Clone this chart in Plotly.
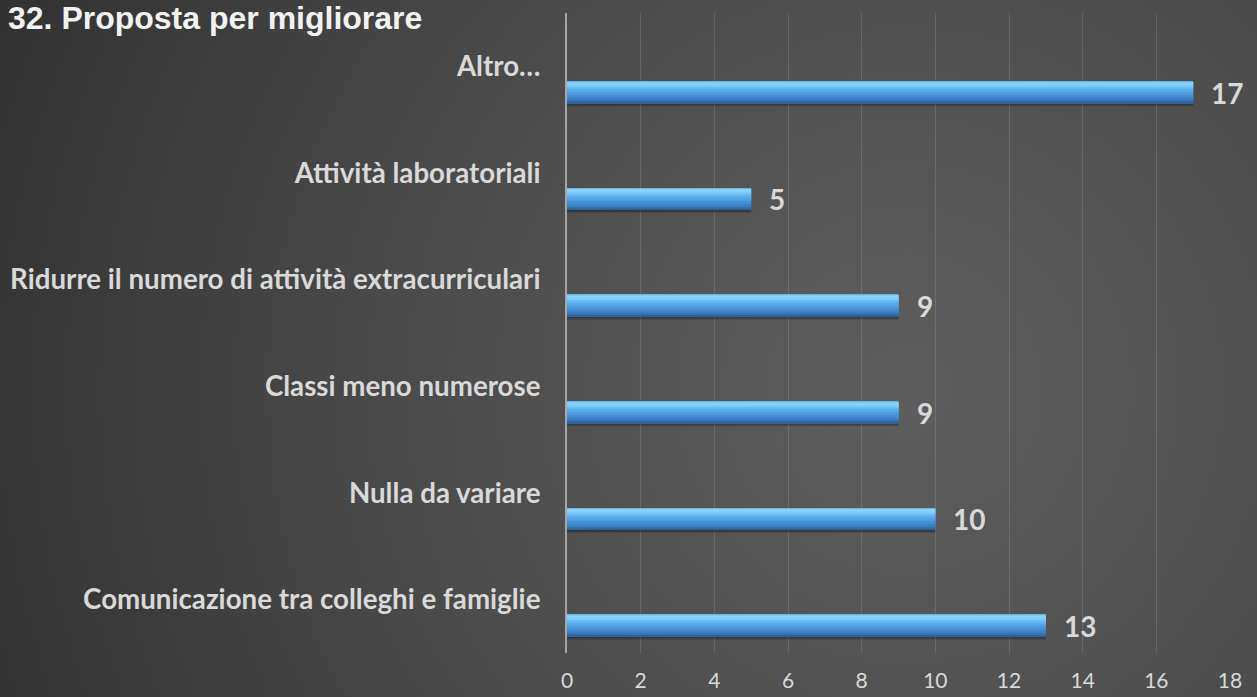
import base64
import plotly.graph_objects as go

# ---- data -------------------------------------------------------------
categories = [
    "Comunicazione tra colleghi e famiglie",
    "Nulla da variare",
    "Classi meno numerose",
    "Ridurre il numero di attività extracurriculari",
    "Attività laboratoriali",
    "Altro…",
]
values = [13, 10, 9, 9, 5, 17]
x_ticks = [0, 2, 4, 6, 8, 10, 12, 14, 16, 18]

# ---- layout constants ---------------------------------------------------
W, H = 1257, 697
M_L, M_R, M_T, M_B = 567, 27, 13, 44
BAND_PX = (H - M_T - M_B) / len(categories)   # pixels per category band
positions = list(range(len(categories)))

TEXT = "#d9d9d9"

# vertical colour profile of the glossy bar (px below band centre, rgb)
BAR_TOP, BAR_BOT = 15.5, 37.0
profile = [
    (15.5, (90, 170, 230)),
    (17.0, (140, 214, 252)),
    (20.0, (128, 205, 250)),
    (24.0, (92, 176, 238)),
    (29.0, (72, 150, 218)),
    (34.0, (58, 124, 192)),
    (37.0, (45, 96, 150)),
]


def colour_at(d):
    for (a, ca), (b, cb) in zip(profile, profile[1:]):
        if a <= d <= b:
            t = (d - a) / (b - a)
            return tuple(round(ca[k] + (cb[k] - ca[k]) * t) for k in range(3))
    return profile[-1][1]


fig = go.Figure()

# soft drop shadow under each bar
for d1, d2, alpha in [(37.0, 38.5, 0.35), (38.5, 40.0, 0.18)]:
    fig.add_trace(go.Bar(
        orientation="h", x=values, y=positions,
        offset=-d2 / BAND_PX, width=(d2 - d1) / BAND_PX,
        marker=dict(color=f"rgba(0,0,0,{alpha})", line=dict(width=0)),
        hoverinfo="skip", showlegend=False,
    ))

# bar body built from thin horizontal slices for a smooth gradient
step = 0.75
d = BAR_TOP
while d < BAR_BOT - 1e-9:
    d2 = min(d + step, BAR_BOT)
    r, g, b = colour_at((d + d2) / 2)
    fig.add_trace(go.Bar(
        orientation="h", x=values, y=positions,
        offset=-d2 / BAND_PX, width=(d2 - d) / BAND_PX + 0.002,
        marker=dict(color=f"rgb({r},{g},{b})", line=dict(width=0)),
        hoverinfo="skip", showlegend=False,
    ))
    d = d2

# value labels to the right of each bar
bar_mid = (BAR_TOP + BAR_BOT) / 2 / BAND_PX
for v, p in zip(values, positions):
    fig.add_annotation(
        x=v, y=p - bar_mid, xref="x", yref="y",
        text=f"<b>{v}</b>", showarrow=False,
        xanchor="left", yanchor="middle", xshift=16,
        font=dict(family="Lato", size=28, color=TEXT),
    )

# radial background gradient
svg = f"""<svg xmlns='http://www.w3.org/2000/svg' width='{W}' height='{H}' viewBox='0 0 {W} {H}' preserveAspectRatio='none'>
<defs><radialGradient id='g' gradientUnits='userSpaceOnUse' cx='{0.72*W}' cy='{0.56*H}' r='1150'>
<stop offset='0' stop-color='#5e5e5e'/>
<stop offset='0.45' stop-color='#4a4a4a'/>
<stop offset='0.8' stop-color='#353535'/>
<stop offset='1' stop-color='#282828'/>
</radialGradient></defs>
<rect x='0' y='0' width='{W}' height='{H}' fill='url(#g)'/></svg>"""
bg_uri = "data:image/svg+xml;base64," + base64.b64encode(svg.encode()).decode()

PW, PH = W - M_L - M_R, H - M_T - M_B
fig.update_layout(
    width=W, height=H,
    margin=dict(l=M_L, r=M_R, t=M_T, b=M_B, pad=0, autoexpand=False),
    barmode="overlay",
    paper_bgcolor="#2c2c2c",
    plot_bgcolor="rgba(0,0,0,0)",
    images=[dict(
        source=bg_uri, xref="paper", yref="paper",
        x=-M_L / PW, y=1 + M_T / PH,
        sizex=W / PW, sizey=H / PH,
        xanchor="left", yanchor="top", sizing="stretch", layer="below",
    )],
    title=dict(
        text="<b>32. Proposta per migliorare</b>",
        xref="container", yref="container",
        x=8 / W, xanchor="left", y=1 - 18 / H, yanchor="middle",
        font=dict(family="Liberation Sans", size=32, color="#f2f2f2"),
    ),
    xaxis=dict(
        range=[0, 18], tickvals=x_ticks,
        showgrid=True, gridcolor="rgba(255,255,255,0.13)", gridwidth=1,
        zeroline=False, showline=False, ticks="",
        tickfont=dict(family="Lato", size=21, color=TEXT),
        ticklabelstandoff=13, automargin=False,
        fixedrange=True,
    ),
    yaxis=dict(
        range=[-0.5, len(categories) - 0.5],
        tickvals=positions, ticktext=categories,
        showgrid=False, zeroline=False, ticks="",
        showline=True, linecolor="#a6a6a6", linewidth=2,
        tickfont=dict(family="Lato", size=27.7, color=TEXT, weight="bold"),
        ticklabelstandoff=19, automargin=False,
        fixedrange=True,
    ),
)

fig.write_html("out.html")
